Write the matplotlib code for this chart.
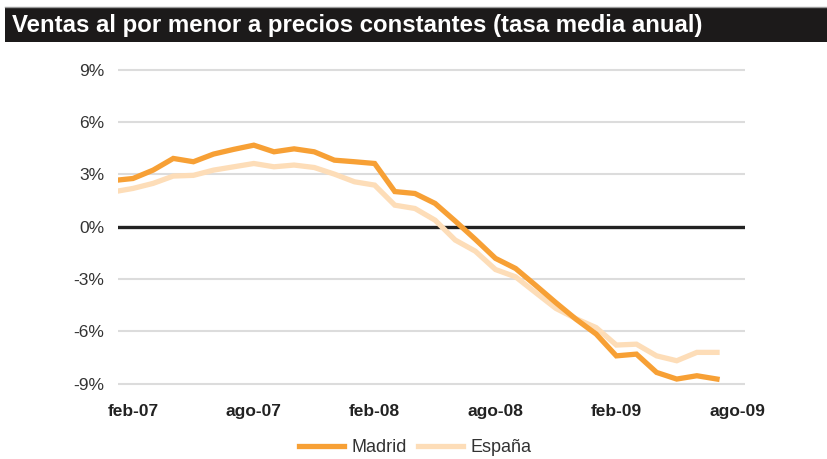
import matplotlib
matplotlib.use("Agg")
import matplotlib.pyplot as plt
from matplotlib.patches import Rectangle
from matplotlib.lines import Line2D
import numpy as np

# monthly series, ene-07 .. jul-09 (tasa media anual, %)
months = [
    "ene-07", "feb-07", "mar-07", "abr-07", "may-07", "jun-07", "jul-07", "ago-07",
    "sep-07", "oct-07", "nov-07", "dic-07", "ene-08", "feb-08", "mar-08", "abr-08",
    "may-08", "jun-08", "jul-08", "ago-08", "sep-08", "oct-08", "nov-08", "dic-08",
    "ene-09", "feb-09", "mar-09", "abr-09", "may-09", "jun-09", "jul-09",
]
madrid = [
    2.65, 2.77, 3.25, 3.92, 3.73, 4.17, 4.44, 4.68,
    4.30, 4.47, 4.30, 3.82, 3.73, 3.63, 2.02, 1.91,
    1.34, 0.33, -0.72, -1.81, -2.39, -3.36, -4.35, -5.30,
    -6.15, -7.40, -7.30, -8.35, -8.73, -8.54, -8.73,
]
espana = [
    2.00, 2.20, 2.49, 2.91, 2.95, 3.25, 3.44, 3.63,
    3.44, 3.54, 3.40, 3.02, 2.58, 2.39, 1.24, 1.05,
    0.38, -0.76, -1.40, -2.45, -2.87, -3.78, -4.68, -5.27,
    -5.78, -6.78, -6.73, -7.40, -7.68, -7.20, -7.20,
]
tick_labels = ["feb-07", "ago-07", "feb-08", "ago-08", "feb-09", "ago-09"]
y_ticks = [9, 6, 3, 0, -3, -6, -9]

MADRID_COLOR = "#F7A035"
ESPANA_COLOR = "#FDDDB8"

fig = plt.figure(figsize=(8.27, 4.59), dpi=100)
fig.patch.set_facecolor("white")

# title bar
fig.add_artist(Line2D([5 / 827, 1], [1 - 7 / 459, 1 - 7 / 459], color="#9a9a9a",
                      linewidth=1.0, transform=fig.transFigure))
fig.add_artist(Rectangle((5 / 827, 1 - 42 / 459), 1 - 5 / 827, 34 / 459,
                         facecolor="#1c1a1a", edgecolor="none",
                         transform=fig.transFigure))
fig.text(12 / 827, 1 - 25.5 / 459, "Ventas al por menor a precios constantes (tasa media anual)",
         color="white", fontsize=17.3, fontweight="bold",
         family="Liberation Sans", va="center", ha="left")

ax = fig.add_axes([118 / 827, 1 - 389 / 459, 627 / 827, 324.4 / 459])

# x index: feb-07 = 0
x = np.arange(len(months)) - 1
for yv in y_ticks:
    if yv == 0:
        continue
    ax.axhline(yv, color="#dcdcdc", linewidth=1.5, zorder=1)
ax.axhline(0, color="#222222", linewidth=2.4, zorder=2)

ax.plot(x, espana, color=ESPANA_COLOR, linewidth=3.8, solid_joinstyle="miter", zorder=3)
ax.plot(x, madrid, color=MADRID_COLOR, linewidth=3.8, solid_joinstyle="miter", zorder=4)

ax.set_xlim(-0.745, 30.39)
ax.set_ylim(-9.3, 9.3)
ax.set_yticks(y_ticks)
ax.set_yticklabels([f"{v}%" for v in y_ticks], fontsize=12.5, color="#333333",
                   family="Liberation Sans")
ax.set_xticks([0, 6, 12, 18, 24, 30])
ax.set_xticklabels(tick_labels, fontsize=12.5, fontweight="bold", color="#222222",
                   family="Liberation Sans")
ax.tick_params(axis="y", length=0, pad=10)
ax.tick_params(axis="x", length=0, pad=11)
for s in ax.spines.values():
    s.set_visible(False)

handles = [
    Line2D([], [], color=MADRID_COLOR, linewidth=3.8),
    Line2D([], [], color=ESPANA_COLOR, linewidth=3.8),
]
fig.legend(handles, ["Madrid", "España"], loc="center", bbox_to_anchor=(0.502, 1 - 448 / 459),
           ncol=2, frameon=False, handlelength=2.5, handletextpad=0.4, columnspacing=0.6,
           prop={"family": "Liberation Sans", "size": 13})
for t in fig.legends[0].get_texts():
    t.set_color("#333333")

fig.savefig("out.png", dpi=100)
